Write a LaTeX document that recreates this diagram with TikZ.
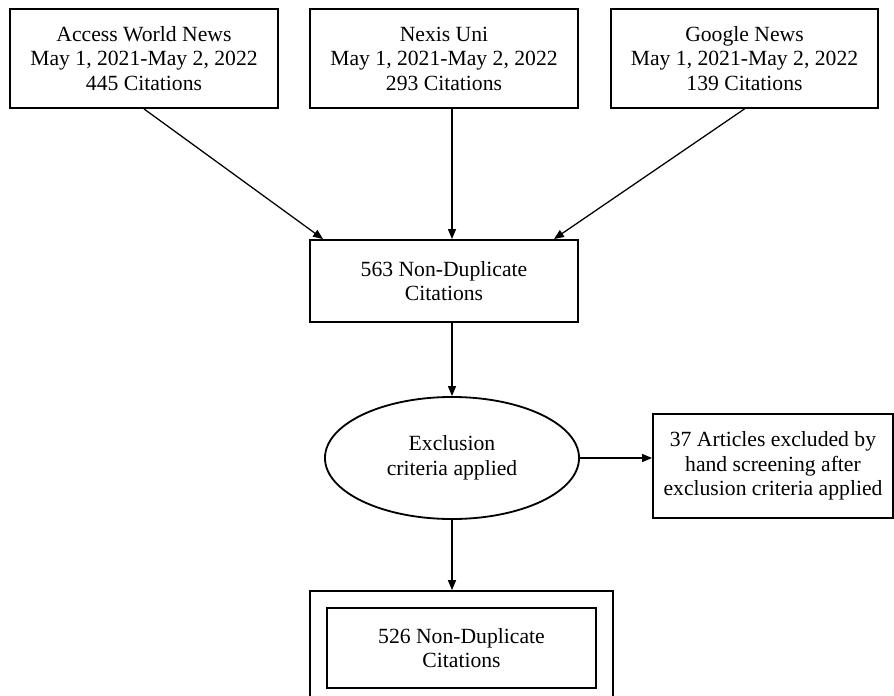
\documentclass[tikz,border=0pt]{standalone}
\usepackage{fontspec}
\setmainfont{Liberation Serif}
\usepackage{tikz}
\usetikzlibrary{arrows.meta,shapes.geometric,fit,calc}

\begin{document}
\begin{tikzpicture}[x=0.025cm, y=-0.025cm,
  font=\fontsize{15.4}{17.4}\selectfont,
  box/.style={draw, line width=1.3pt, align=center, inner sep=2pt},
  flow/.style={-{Triangle[length=2.5mm, width=2mm]}, line width=0.9pt}]
  \useasboundingbox (0,0) rectangle (894,696);
  % the three databases
  \node[box, minimum width=6.7cm, minimum height=2.475cm] (awn) at (144,58.5)
    {Access World News\\May 1, 2021-May 2, 2022\\445 Citations};
  \node[box, minimum width=6.7cm, minimum height=2.475cm] (nexis) at (444,58.5)
    {Nexis Uni\\May 1, 2021-May 2, 2022\\293 Citations};
  \node[box, minimum width=6.675cm, minimum height=2.475cm] (google) at (744.5,58.5)
    {Google News\\May 1, 2021-May 2, 2022\\139 Citations};
  % merged and screened
  \node[box, minimum width=6.7cm, minimum height=2.05cm] (dedup) at (444,281)
    {563 Non-Duplicate\\Citations};
  \node[ellipse, draw, line width=1.3pt, align=center, inner sep=0pt,
    minimum width=6.35cm, minimum height=3.05cm] (excl) at (452,458)
    {Exclusion\\criteria applied};
  \node[box, minimum width=6.0cm, minimum height=2.6cm] (excluded) at (773,466)
    {37 Articles excluded by\\hand screening after\\exclusion criteria applied};
  % final set, framed twice
  \node[box, minimum width=6.725cm, minimum height=2.0cm] (final) at (461.5,648)
    {526 Non-Duplicate\\Citations};
  \node[box, fit=(final), inner sep=0.4cm] (frame) {};
  % connectors
  \draw[flow] (awn.south) -- ($(dedup.north west)+(14,0)$);
  \draw[flow] (nexis.south -| excl) -- (dedup.north -| excl);
  \draw[flow] (google.south) -- ($(dedup.north east)+(-25,0)$);
  \draw[flow] (dedup.south -| excl) -- (excl.north);
  \draw[flow] (excl.east) -- (excl.east -| excluded.west);
  \draw[flow] (excl.south) -- (excl.south |- frame.north);
\end{tikzpicture}
\end{document}
